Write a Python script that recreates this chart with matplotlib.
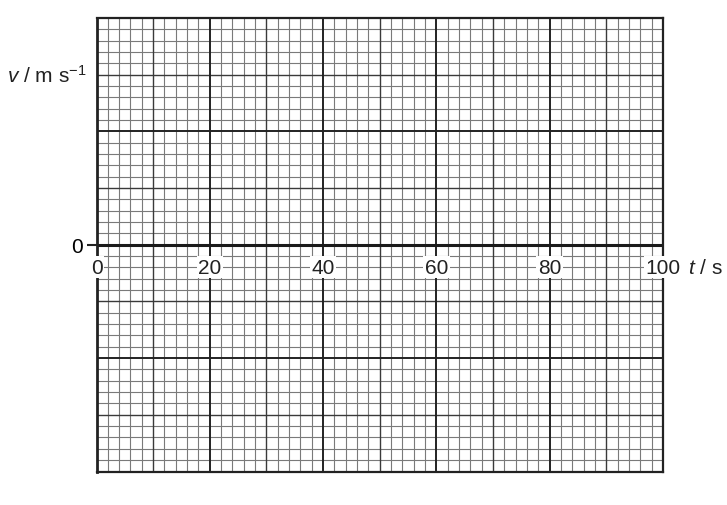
import numpy as np
import matplotlib
matplotlib.use("Agg")
import matplotlib.pyplot as plt

plt.rcParams['font.family'] = ['Liberation Sans', 'DejaVu Sans']
plt.rcParams['mathtext.fontset'] = 'custom'
plt.rcParams['mathtext.rm'] = 'Liberation Sans'
plt.rcParams['mathtext.it'] = 'Liberation Sans:italic'

# axis ranges (x in seconds, y in small squares, no scale given)
t_min, t_max = 0, 100
v_min, v_max = -20, 20
t_labels = [0, 20, 40, 60, 80, 100]
t_small, t_mid, t_big = 2, 10, 20
v_small, v_mid, v_big = 1, 5, 10

fig = plt.figure(figsize=(7.27, 5.06), dpi=100)
ax = fig.add_axes([96.5/727, 1-472.5/506, 566.5/727, 453.5/506])
ax.set_xlim(t_min, t_max)
ax.set_ylim(v_min, v_max)

# graph paper
for x in np.arange(t_min, t_max + 0.01, t_small):
    if x % t_big == 0:
        ax.axvline(x, color='#222222', lw=1.4, zorder=3)
    elif x % t_mid == 0:
        ax.axvline(x, color='#3a3a3a', lw=1.0, zorder=2)
    else:
        ax.axvline(x, color='#7a7a7a', lw=0.8, zorder=1)
for y in np.arange(v_min, v_max + 0.01, v_small):
    if y % v_big == 0:
        ax.axhline(y, color='#222222', lw=1.4, zorder=3)
    elif y % v_mid == 0:
        ax.axhline(y, color='#3a3a3a', lw=1.0, zorder=2)
    else:
        ax.axhline(y, color='#7a7a7a', lw=0.8, zorder=1)

# zero axis
ax.axhline(0, color='#1a1a1a', lw=2.2, zorder=4)

for s in ax.spines.values():
    s.set_linewidth(1.6)
    s.set_color('#222222')
    s.set_zorder(5)
ax.spines['left'].set_linewidth(2.0)

ax.set_xticks([])
ax.set_yticks([0])
ax.set_yticklabels(['0'], fontsize=15)
ax.tick_params(axis='y', length=7, width=1.5, pad=3, color='#222222')

for t in t_labels:
    ax.annotate(str(t), (t, 0), xytext=(0, -28), textcoords='offset pixels',
                ha='center', va='baseline', fontsize=15, color='#222222',
                bbox=dict(boxstyle='square,pad=0.08', fc='white', ec='none'),
                zorder=6, annotation_clip=False)

ax.text(-0.018, 14.4, r'$v$ / m s$^{-1}$', transform=ax.get_yaxis_transform(),
        ha='right', va='baseline', fontsize=15, color='#222222')
ax.annotate(r'$t$ / s', (1.0, 0), xycoords=ax.get_yaxis_transform(),
            xytext=(25, -28), textcoords='offset pixels',
            ha='left', va='baseline', fontsize=15, color='#222222',
            annotation_clip=False)

fig.savefig('out.png', dpi=100)
